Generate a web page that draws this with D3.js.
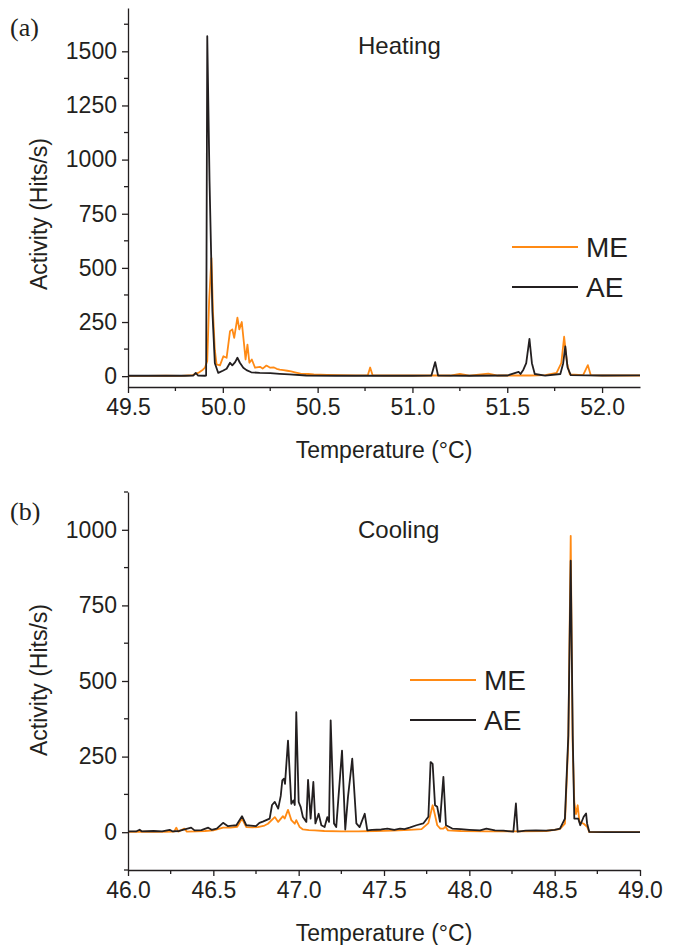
<!DOCTYPE html>
<html>
<head>
<meta charset="utf-8">
<script src="https://cdn.jsdelivr.net/npm/d3@7"></script>
<style>
  body { margin: 0; background: #fff; }
  text { font-family: 'Liberation Sans', Arial, sans-serif; fill: #231f20; }
  .tick-label { font-size: 23px; }
  .axis-title { font-size: 23px; }
  .panel-title { font-size: 24px; }
  .legend-text { font-size: 28px; }
  .panel-letter { font-family: 'Liberation Serif', serif; font-size: 26px; }
</style>
</head>
<body>
<div id="wrapper"></div>
<script>
// 1. Data (temperature in °C, activity in hits/s)

const heatingME = [
  [49.5, 1], [49.6, 1], [49.7, 2], [49.78, 1], [49.84, 5], [49.87, 15], [49.895, 30],
  [49.906, 40], [49.918, 70], [49.928, 350], [49.94, 545], [49.948, 300], [49.958, 120],
  [49.967, 54], [49.985, 50], [50.003, 92], [50.02, 85], [50.038, 208], [50.05, 216],
  [50.06, 177], [50.077, 270], [50.087, 216], [50.1, 250], [50.113, 139], [50.12, 77],
  [50.13, 146], [50.14, 62], [50.153, 77], [50.17, 39], [50.196, 43], [50.21, 35],
  [50.23, 49], [50.25, 39], [50.27, 40], [50.284, 34], [50.3, 30], [50.32, 28], [50.34, 25],
  [50.36, 22], [50.38, 18], [50.41, 12], [50.45, 10], [50.48, 8], [50.55, 6], [50.62, 5],
  [50.7, 4], [50.765, 5], [50.777, 40], [50.79, 4], [50.85, 3], [51.0, 3], [51.1, 3],
  [51.2, 3], [51.25, 10], [51.3, 3], [51.4, 12], [51.45, 3], [51.55, 3], [51.62, 3],
  [51.7, 5], [51.76, 15], [51.785, 60], [51.8, 182], [51.815, 60], [51.83, 8], [51.9, 5],
  [51.925, 51], [51.94, 5], [52.0, 3], [52.2, 3]
];

const heatingAE = [
  [49.5, 2], [49.6, 2], [49.7, 2], [49.8, 2], [49.845, 3], [49.857, 15], [49.87, 3],
  [49.905, 2], [49.912, 3], [49.918, 1570], [49.93, 900], [49.945, 300], [49.958, 60],
  [49.976, 15], [50.0, 25], [50.02, 34], [50.038, 62], [50.05, 50], [50.065, 65],
  [50.077, 85], [50.09, 62], [50.108, 39], [50.125, 28], [50.15, 18], [50.195, 15],
  [50.25, 14], [50.3, 11], [50.35, 8], [50.44, 3], [50.6, 2], [50.8, 2], [51.0, 2],
  [51.1, 3], [51.12, 65], [51.135, 3], [51.3, 2], [51.5, 3], [51.56, 20], [51.57, 10],
  [51.585, 30], [51.6, 60], [51.617, 172], [51.63, 60], [51.645, 10], [51.7, 3],
  [51.78, 10], [51.795, 60], [51.806, 138], [51.818, 40], [51.835, 5], [52.0, 3], [52.2, 4]
];

const coolingME = [
  [46.0, 1], [46.1, 2], [46.2, 1], [46.27, 2], [46.283, 15], [46.295, 2], [46.33, 12],
  [46.345, 2], [46.4, 3], [46.45, 4], [46.5, 6], [46.557, 15], [46.6, 15], [46.64, 18],
  [46.668, 45], [46.693, 17], [46.73, 16], [46.76, 17], [46.8, 22], [46.82, 28],
  [46.86, 50], [46.88, 34], [46.908, 53], [46.918, 45], [46.9375, 74], [46.957, 40],
  [46.977, 28], [46.986, 40], [47.006, 17], [47.025, 9], [47.06, 7], [47.094, 6],
  [47.15, 4], [47.25, 3], [47.35, 3], [47.45, 4], [47.55, 5], [47.65, 8], [47.72, 10],
  [47.76, 30], [47.785, 89], [47.799, 56], [47.812, 23], [47.83, 12], [47.848, 12],
  [47.86, 18], [47.875, 6], [47.95, 4], [48.1, 3], [48.3, 3], [48.45, 4], [48.53, 10],
  [48.56, 28], [48.58, 300], [48.594, 980], [48.605, 300], [48.615, 100], [48.625, 60],
  [48.635, 89], [48.645, 34], [48.67, 28], [48.69, 18], [48.703, 0], [48.8, 0], [49.0, 0]
];

const coolingAE = [
  [46.0, 3], [46.05, 3], [46.068, 8], [46.08, 3], [46.15, 4], [46.2, 3], [46.244, 8],
  [46.26, 3], [46.3, 4], [46.37, 15], [46.39, 6], [46.43, 7], [46.47, 15], [46.49, 8],
  [46.52, 12], [46.557, 31], [46.586, 20], [46.61, 22], [46.635, 23], [46.668, 53],
  [46.693, 23], [46.72, 22], [46.75, 20], [46.77, 31], [46.79, 35], [46.81, 40],
  [46.83, 45], [46.844, 90], [46.86, 100], [46.88, 78], [46.895, 120], [46.904, 171],
  [46.914, 177], [46.92, 160], [46.9375, 303], [46.957, 94], [46.969, 105], [46.977, 90],
  [46.986, 397], [47.0, 100], [47.012, 83], [47.025, 50], [47.045, 34], [47.055, 173],
  [47.07, 45], [47.086, 166], [47.098, 29], [47.117, 61], [47.133, 23], [47.152, 17],
  [47.168, 50], [47.178, 34], [47.1875, 370], [47.207, 29], [47.22, 17], [47.254, 270],
  [47.273, 9], [47.289, 117], [47.314, 243], [47.338, 29], [47.357, 17], [47.387, 61],
  [47.402, 6], [47.43, 8], [47.484, 9], [47.52, 12], [47.56, 8], [47.594, 12], [47.62, 10],
  [47.65, 15], [47.69, 23], [47.73, 29], [47.76, 51], [47.773, 232], [47.785, 226],
  [47.799, 89], [47.812, 84], [47.828, 34], [47.848, 183], [47.863, 23], [47.9, 12],
  [47.95, 10], [48.0, 8], [48.063, 6], [48.1, 12], [48.15, 6], [48.2, 5], [48.258, 2],
  [48.273, 95], [48.283, 2], [48.33, 5], [48.39, 6], [48.45, 5], [48.5, 8], [48.531, 12],
  [48.56, 45], [48.58, 320], [48.594, 898], [48.606, 320], [48.615, 45], [48.638, 45],
  [48.65, 23], [48.67, 51], [48.684, 62], [48.69, 29], [48.703, 1], [48.8, 0], [49.0, 0]
];

const heatingXTicks = [49.5, 50.0, 50.5, 51.0, 51.5, 52.0];
const heatingYTicks = [0, 250, 500, 750, 1000, 1250, 1500];
const coolingXTicks = [46.0, 46.5, 47.0, 47.5, 48.0, 48.5, 49.0];
const coolingYTicks = [0, 250, 500, 750, 1000];

const seriesNames = ['ME', 'AE'];
const seriesColors = ['#ff8a14', '#231f20'];

const tempAccessor = (d) => d[0];
const activityAccessor = (d) => d[1];

// 2. Dimensions

const width = 677;
const height = 945;

const panels = [
  {
    letter: '(a)', title: 'Heating', me: heatingME, ae: heatingAE,
    xDomain: [49.5, 52.2], yDomain: [-50, 1700],
    xTicks: heatingXTicks, yTicks: heatingYTicks,
    top: 8, bottom: 387,
    letterY: 36, titleY: 54, yTitleY: 214,
    legendX: 512, legendY: 247,
  },
  {
    letter: '(b)', title: 'Cooling', me: coolingME, ae: coolingAE,
    xDomain: [46.0, 49.0], yDomain: [-125, 1125],
    xTicks: coolingXTicks, yTicks: coolingYTicks,
    top: 492, bottom: 870,
    letterY: 520, titleY: 538, yTitleY: 680,
    legendX: 410, legendY: 680,
  },
];
const left = 128;
const right = 640;

// 3. Draw canvas

const wrapper = d3
  .select('#wrapper')
  .append('svg')
  .attr('width', width)
  .attr('height', height);

panels.forEach((p) => {
  const g = wrapper.append('g');

  // 4. Scales
  const xScale = d3.scaleLinear().domain(p.xDomain).range([left, right]);
  const yScale = d3.scaleLinear().domain(p.yDomain).range([p.bottom, p.top]);

  // 5. Data lines, ME under AE
  const lineGenerator = d3
    .line()
    .x((d) => xScale(tempAccessor(d)))
    .y((d) => yScale(activityAccessor(d)));

  [p.me, p.ae].forEach((series, i) => {
    g.append('path')
      .attr('d', lineGenerator(series))
      .attr('fill', 'none')
      .attr('stroke', seriesColors[i])
      .attr('stroke-width', 1.8)
      .attr('stroke-linejoin', 'round');
  });

  // 6. Peripherals
  const xAxis = d3
    .axisBottom(xScale)
    .tickValues(p.xTicks)
    .tickFormat(d3.format('.1f'))
    .tickSize(6)
    .tickPadding(6)
    .tickSizeOuter(0);
  const xMinor = d3.range(p.xDomain[0] + 0.25, p.xDomain[1], 0.5);

  const xAxisGroup = g
    .append('g')
    .attr('transform', `translate(0, ${p.bottom})`)
    .call(xAxis);
  xAxisGroup
    .selectAll('.minor')
    .data(xMinor)
    .join('line')
    .attr('class', 'minor')
    .attr('x1', (d) => xScale(d))
    .attr('x2', (d) => xScale(d))
    .attr('y2', 4)
    .attr('stroke', '#231f20')
    .attr('stroke-width', 1.3);

  const yAxis = d3
    .axisLeft(yScale)
    .tickValues(p.yTicks)
    .tickFormat(d3.format('d'))
    .tickSize(6)
    .tickPadding(5)
    .tickSizeOuter(0);
  const yMinor = d3
    .range(-125, p.yDomain[1] + 1, 250)
    .filter((d) => d >= p.yDomain[0]);

  const yAxisGroup = g
    .append('g')
    .attr('transform', `translate(${left}, 0)`)
    .call(yAxis);
  yAxisGroup
    .selectAll('.minor')
    .data(yMinor)
    .join('line')
    .attr('class', 'minor')
    .attr('y1', (d) => yScale(d))
    .attr('y2', (d) => yScale(d))
    .attr('x2', -4)
    .attr('stroke', '#231f20')
    .attr('stroke-width', 1.3);

  [xAxisGroup, yAxisGroup].forEach((a) => {
    a.attr('font-size', null).attr('font-family', null);
    a.select('.domain').attr('stroke', '#231f20').attr('stroke-width', 1.3);
    a.selectAll('.tick line').attr('stroke', '#231f20').attr('stroke-width', 1.3);
    a.selectAll('.tick text').attr('class', 'tick-label').attr('fill', '#231f20');
  });

  g.append('text')
    .attr('class', 'axis-title')
    .attr('x', (left + right) / 2)
    .attr('y', p.bottom + 71)
    .attr('text-anchor', 'middle')
    .text('Temperature (°C)');

  g.append('text')
    .attr('class', 'axis-title')
    .attr('transform', `translate(47, ${p.yTitleY}) rotate(-90)`)
    .attr('text-anchor', 'middle')
    .text('Activity (Hits/s)');

  g.append('text')
    .attr('class', 'panel-letter')
    .attr('x', 10)
    .attr('y', p.letterY)
    .text(p.letter);

  g.append('text')
    .attr('class', 'panel-title')
    .attr('x', 358)
    .attr('y', p.titleY)
    .text(p.title);

  // legend
  seriesNames.forEach((name, i) => {
    const ly = p.legendY + i * 40;
    g.append('line')
      .attr('x1', p.legendX)
      .attr('x2', p.legendX + 66)
      .attr('y1', ly)
      .attr('y2', ly)
      .attr('stroke', seriesColors[i])
      .attr('stroke-width', 1.8);
    g.append('text')
      .attr('class', 'legend-text')
      .attr('x', p.legendX + 74)
      .attr('y', ly + 10)
      .text(name);
  });
});
</script>
</body>
</html>
